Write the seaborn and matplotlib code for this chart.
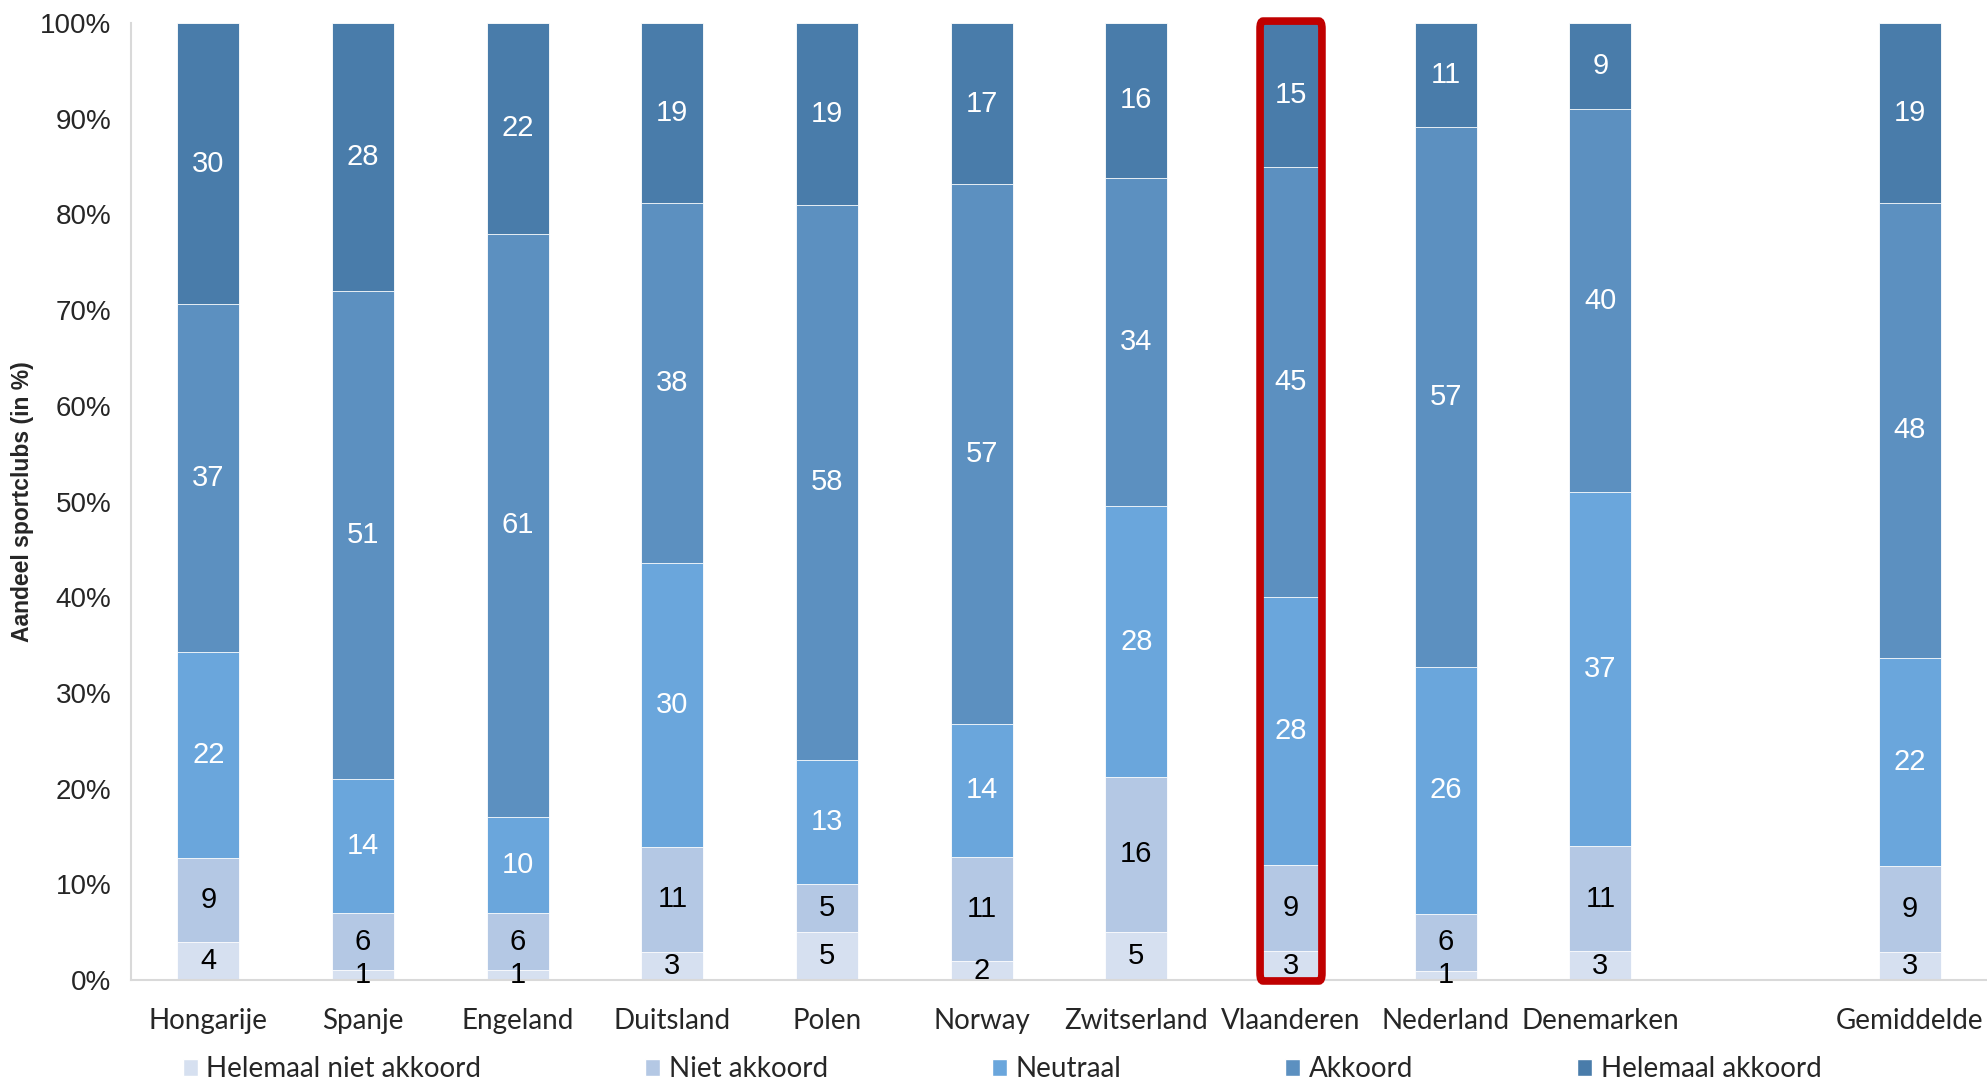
import matplotlib
matplotlib.use("Agg")
import matplotlib.pyplot as plt
import seaborn as sns
import numpy as np
import pandas as pd
from matplotlib.patches import FancyBboxPatch, Patch

sns.set_theme(style="white")
plt.rcParams['font.family'] = ['Liberation Sans', 'DejaVu Sans']

countries = ["Hongarije", "Spanje", "Engeland", "Duitsland", "Polen", "Norway",
             "Zwitserland", "Vlaanderen", "Nederland", "Denemarken", "Gemiddelde"]
order = countries[:10] + [" "] + ["Gemiddelde"]

series = ["Helemaal niet akkoord", "Niet akkoord", "Neutraal", "Akkoord", "Helemaal akkoord"]
helemaal_niet = [4, 1, 1, 3, 5, 2, 5, 3, 1, 3, 3]
niet_akkoord = [9, 6, 6, 11, 5, 11, 16, 9, 6, 11, 9]
neutraal = [22, 14, 10, 30, 13, 14, 28, 28, 26, 37, 22]
akkoord = [37, 51, 61, 38, 58, 57, 34, 45, 57, 40, 48]
helemaal_akkoord = [30, 28, 22, 19, 19, 17, 16, 15, 11, 9, 19]

colors = ["#D6E0F0", "#B4C8E4", "#6AA6DC", "#5C90C0", "#497CAA"]
text_colors = ["black", "black", "white", "white", "white"]

vals = np.array([helemaal_niet, niet_akkoord, neutraal, akkoord, helemaal_akkoord], dtype=float)
shares = vals / vals.sum(axis=0) * 100
cum = np.cumsum(shares, axis=0)

fig = plt.figure(figsize=(19.87, 10.81), dpi=100)
ax = fig.add_axes([131/1987, 1-980/1081, 1-131/1987, (980-23)/1081])

for i in range(4, -1, -1):
    df = pd.DataFrame({"land": countries, "waarde": cum[i]})
    sns.barplot(data=df, x="land", y="waarde", order=order, color=colors[i],
                width=0.4, edgecolor="white", linewidth=0.6, saturation=1,
                errorbar=None, ax=ax)

pos = {c: order.index(c) for c in countries}
for i in range(5):
    for j, c in enumerate(countries):
        mid = cum[i][j] - shares[i][j] / 2
        ax.text(pos[c], mid, f"{int(vals[i][j])}", ha="center", va="center",
                fontsize=21, color=text_colors[i], family=['Liberation Sans'])

# highlight Vlaanderen
xv = pos["Vlaanderen"]
frame = FancyBboxPatch((xv - 0.2, -0.1), 0.4, 100.3,
                       boxstyle="round,pad=0,rounding_size=0.02",
                       fill=False, edgecolor="#C00000", linewidth=5.5,
                       clip_on=False, zorder=10, mutation_aspect=40)
ax.add_patch(frame)

ax.set_ylim(0, 100)
ax.set_xlim(-0.5, 11.5)
ax.set_yticks(np.arange(0, 101, 10))
ax.set_yticklabels([f"{v}%" for v in range(0, 101, 10)], fontsize=20)
ax.set_xticks(range(len(order)))
ax.set_xticklabels(order, fontsize=20, family=['Lato', 'DejaVu Sans'])
ax.tick_params(axis="both", length=0)
ax.tick_params(axis="x", pad=20)
ax.tick_params(axis="y", pad=14)
ax.set_xlabel("")
ax.set_ylabel("")
fig.text(23/1987, 1-502/1081, "Aandeel sportclubs (in %)", rotation=90,
         ha="center", va="center", fontsize=16.5, fontweight="bold")
for s in ["top", "right"]:
    ax.spines[s].set_visible(False)
for s in ["left", "bottom"]:
    ax.spines[s].set_color("#D9D9D9")
    ax.spines[s].set_linewidth(1.5)

handles = [Patch(facecolor=colors[i], label=series[i]) for i in range(5)]
leg = fig.legend(handles=handles, loc="center", ncol=5, frameon=False,
                 bbox_to_anchor=(0.5043, 1 - 1069/1081),
                 prop={'family': ['Lato', 'DejaVu Sans'], 'size': 20},
                 handlelength=0.55, handleheight=0.55, handletextpad=0.3,
                 columnspacing=5.9)

fig.savefig("out.png", dpi=100)
